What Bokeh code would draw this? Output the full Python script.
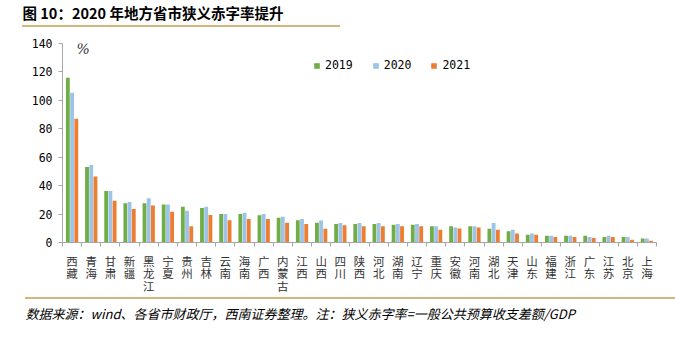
from bokeh.plotting import figure
from bokeh.layouts import column
from bokeh.models import (Range1d, FixedTicker, Legend, LegendItem, Label, ColumnDataSource, Div)
from bokeh.core.properties import value
from bokeh.embed import file_html
from bokeh.resources import INLINE

title_text = "图 10：2020 年地方省市狭义赤字率提升"
note_text = "数据来源：wind、各省市财政厅，西南证券整理。注：狭义赤字率=一般公共预算收支差额/GDP"

provinces = ["西藏", "青海", "甘肃", "新疆", "黑龙江", "宁夏", "贵州", "吉林", "云南", "海南",
             "广西", "内蒙古", "江西", "山西", "四川", "陕西", "河北", "湖南", "辽宁", "重庆",
             "安徽", "河南", "湖北", "天津", "山东", "福建", "浙江", "广东", "江苏", "北京", "上海"]
v2019 = [115.9, 53.2, 36.3, 27.7, 27.7, 26.8, 25.1, 24.2, 20.1, 20.1,
         19.1, 17.4, 15.7, 13.9, 13.1, 13.1, 13.1, 12.4, 12.4, 11.5,
         11.5, 11.5, 9.6, 8.0, 5.4, 4.7, 4.7, 4.7, 3.8, 3.8, 2.8]
v2020 = [105.3, 54.6, 36.3, 28.5, 31.1, 26.8, 22.4, 25.1, 20.1, 20.9,
         20.1, 18.2, 16.5, 15.5, 13.8, 13.8, 13.8, 13.1, 13.1, 11.5,
         10.6, 11.5, 13.8, 8.9, 6.3, 4.7, 4.7, 3.8, 4.7, 3.8, 2.8]
v2021 = [87.0, 46.4, 29.3, 23.5, 26.1, 21.6, 11.5, 19.3, 15.7, 16.5,
         16.5, 13.9, 13.1, 9.6, 12.2, 11.5, 11.5, 11.5, 11.5, 8.9,
         9.9, 10.6, 8.9, 6.3, 5.4, 3.8, 3.8, 3.1, 3.8, 1.9, 1.2]
series_names = ["2019", "2020", "2021"]
colors = ["#70ad47", "#9dc3e6", "#ed7d31"]
y_ticks = [0, 20, 40, 60, 80, 100, 120, 140]

GOLD = "#d6b57c"
CJK = "Noto Sans CJK SC"
MONO = "DejaVu Sans Mono"

def strip(h):
    f = figure(width=675, height=h, x_range=Range1d(0, 675), y_range=Range1d(0, h),
               toolbar_location=None, output_backend="svg", frame_align=False,
               x_axis_location=None, y_axis_location=None,
               min_border_left=0, min_border_right=0, min_border_top=0, min_border_bottom=0)
    f.grid.visible = False
    f.outline_line_color = None
    f.background_fill_alpha = 0
    f.border_fill_alpha = 0
    return f

def rule(left, length):
    return Div(text="", width=length, height=2, margin=(0, 0, 0, left),
               styles={"background-color": GOLD})

# ---------- title strip ----------
top = strip(25)
top.text(x=[22], y=[13], text=[title_text], text_font=value(CJK), text_font_size="14.5px",
         text_font_style="bold", text_baseline="middle", text_color="#000000")
top_rule = rule(22, 318)

# ---------- main chart ----------
n = len(provinces)
xs = list(range(n))
p = figure(width=675, height=270, x_range=Range1d(-0.5, n - 0.5), y_range=Range1d(0, 140),
           toolbar_location=None, output_backend="svg", frame_align=False,
           min_border_left=62, min_border_right=19, min_border_top=16, min_border_bottom=55)
p.grid.visible = False
p.outline_line_color = None
p.background_fill_alpha = 0
p.border_fill_alpha = 0

offsets = [-0.22, 0.0, 0.22]
renderers = []
for vals, off, col in zip([v2019, v2020, v2021], offsets, colors):
    src = ColumnDataSource(dict(x=[i + off for i in xs], top=vals))
    r = p.vbar(x="x", top="top", width=0.2, bottom=0, source=src,
               fill_color=col, line_color=None)
    renderers.append(r)

# axes
p.xaxis.ticker = FixedTicker(ticks=xs, minor_ticks=[i - 0.5 for i in range(n + 1)])
p.xaxis.major_label_overrides = {i: "\n".join(list(name)) for i, name in enumerate(provinces)}
p.xaxis.major_tick_line_color = None
p.xaxis.minor_tick_line_color = "#a6a6a6"
p.xaxis.minor_tick_out = 4
p.xaxis.minor_tick_in = 0
p.xaxis.axis_line_color = "#a6a6a6"
p.xaxis.major_label_text_font = CJK
p.xaxis.major_label_text_font_size = "11.5px"
p.xaxis.major_label_text_color = "#333333"
p.xaxis.major_label_standoff = 4
p.xaxis.major_label_text_line_height = 0.8

p.yaxis.ticker = FixedTicker(ticks=y_ticks)
p.yaxis.minor_tick_line_color = None
p.yaxis.major_tick_out = 4
p.yaxis.major_tick_in = 0
p.yaxis.major_tick_line_color = "#a6a6a6"
p.yaxis.axis_line_color = "#a6a6a6"
p.yaxis.major_label_text_font = MONO
p.yaxis.major_label_text_font_size = "11.5px"
p.yaxis.major_label_text_color = "#000000"
p.yaxis.major_label_standoff = 6

p.add_layout(Label(x=14, y=186, x_units="screen", y_units="screen", text="%",
                   text_font="DejaVu Serif", text_font_style="italic",
                   text_font_size="14px", text_color="#333333"))

legend = Legend(items=[LegendItem(label=nm, renderers=[r]) for nm, r in zip(series_names, renderers)],
                orientation="horizontal", location=(251, 170),
                glyph_width=7, glyph_height=7, label_standoff=5, spacing=19,
                padding=0, margin=0, border_line_color=None, background_fill_alpha=0,
                label_text_font=MONO, label_text_font_size="11.5px", label_text_color="#000000")
p.add_layout(legend)

# ---------- footnote strip ----------
bot_rule = rule(25, 650)
bot = strip(42)
bot.text(x=[25], y=[28], text=[note_text], text_font=value(CJK), text_font_size="13px",
         text_font_style="italic", text_baseline="middle", text_color="#000000")

layout = column(top, top_rule, p, bot_rule, bot, spacing=0)
open("out.html", "w").write(file_html(layout, INLINE))
